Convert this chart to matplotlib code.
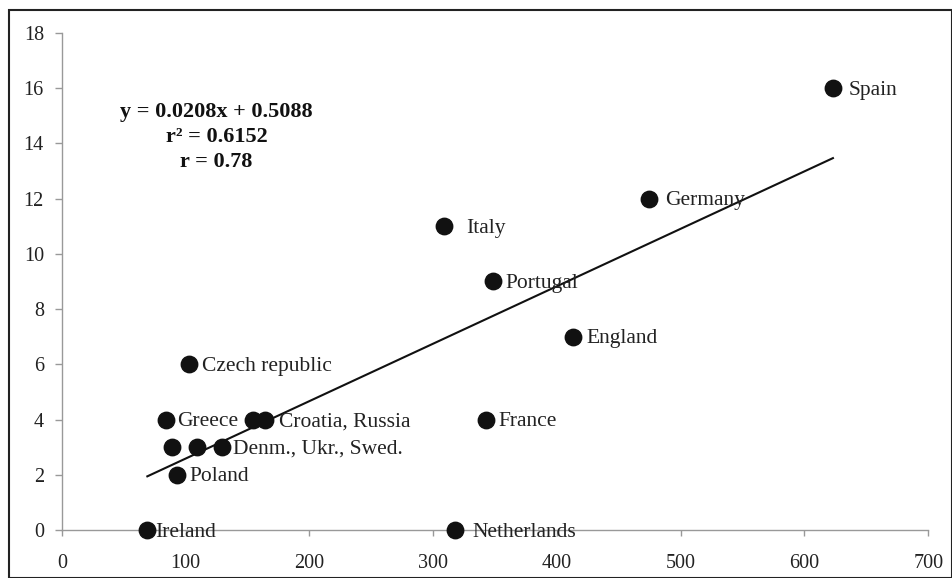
import numpy as np
import matplotlib.pyplot as plt
from matplotlib.patches import Rectangle

plt.rcParams['font.family'] = ['Liberation Serif', 'DejaVu Serif']

# points per country group
countries = ['Spain', 'Germany', 'Italy', 'Portugal', 'England', 'Czech republic',
             'Greece', 'Croatia', 'Russia', 'France', 'Denmark', 'Ukraine', 'Sweden',
             'Poland', 'Ireland', 'Netherlands']
x_vals = [623, 474, 309, 348, 413, 103, 84, 154, 164, 343, 89, 109, 129, 93, 69, 318]
y_vals = [16, 12, 11, 9, 7, 6, 4, 4, 4, 4, 3, 3, 3, 2, 0, 0]

# text labels (some shared between neighbouring points)
label_text = ['Spain', 'Germany', 'Italy', 'Portugal', 'England', 'Czech republic',
              'Greece', '', 'Croatia, Russia', 'France', '', '', 'Denm., Ukr., Swed.',
              'Poland', 'Ireland', 'Netherlands']
label_dx = [11, 12, 16, 9, 10, 9, 8, 0, 10, 9, 0, 0, 8, 9, 6, 12]

slope, intercept = 0.0208, 0.5088
r2, r = 0.6152, 0.78

fig = plt.figure(figsize=(9.53, 5.78), dpi=100)
ax = fig.add_axes([0.065, 0.083, 0.909, 0.860])

ax.scatter(x_vals, y_vals, s=140, color='#111111', zorder=3, clip_on=False)

xs = np.array([min(x_vals), max(x_vals)])
ax.plot(xs, slope * xs + intercept, color='#111111', lw=1.5, zorder=2)

for xv, yv, txt, dx in zip(x_vals, y_vals, label_text, label_dx):
    if txt:
        ax.annotate(txt, (xv, yv), xytext=(dx, -1.5), textcoords='offset points',
                    ha='left', va='center', fontsize=15.5, color='#222222', zorder=4)

ax.text(125, 14.24, f'y = {slope}x + {intercept}\nr² = {r2}\nr = {r}',
        ha='center', va='center', fontsize=16, fontweight='bold',
        linespacing=1.35, color='#111111')

ax.set_xlim(0, 700)
ax.set_ylim(0, 18)
ax.set_xticks(range(0, 701, 100))
ax.set_yticks(range(0, 19, 2))
for side in ['top', 'right']:
    ax.spines[side].set_visible(False)
for side in ['left', 'bottom']:
    ax.spines[side].set_color('#999999')
    ax.spines[side].set_linewidth(1.0)
ax.tick_params(axis='both', colors='#999999', labelcolor='#222222',
               labelsize=14.5, length=5, width=1)
ax.tick_params(axis='x', direction='out', length=4, pad=13)
ax.tick_params(axis='y', pad=8)

# outer frame
fig.patches.append(Rectangle((0.009, 0.0), 0.99, 0.983, transform=fig.transFigure,
                             fill=False, edgecolor='#222222', lw=1.5))

fig.savefig('out.png', dpi=100)
